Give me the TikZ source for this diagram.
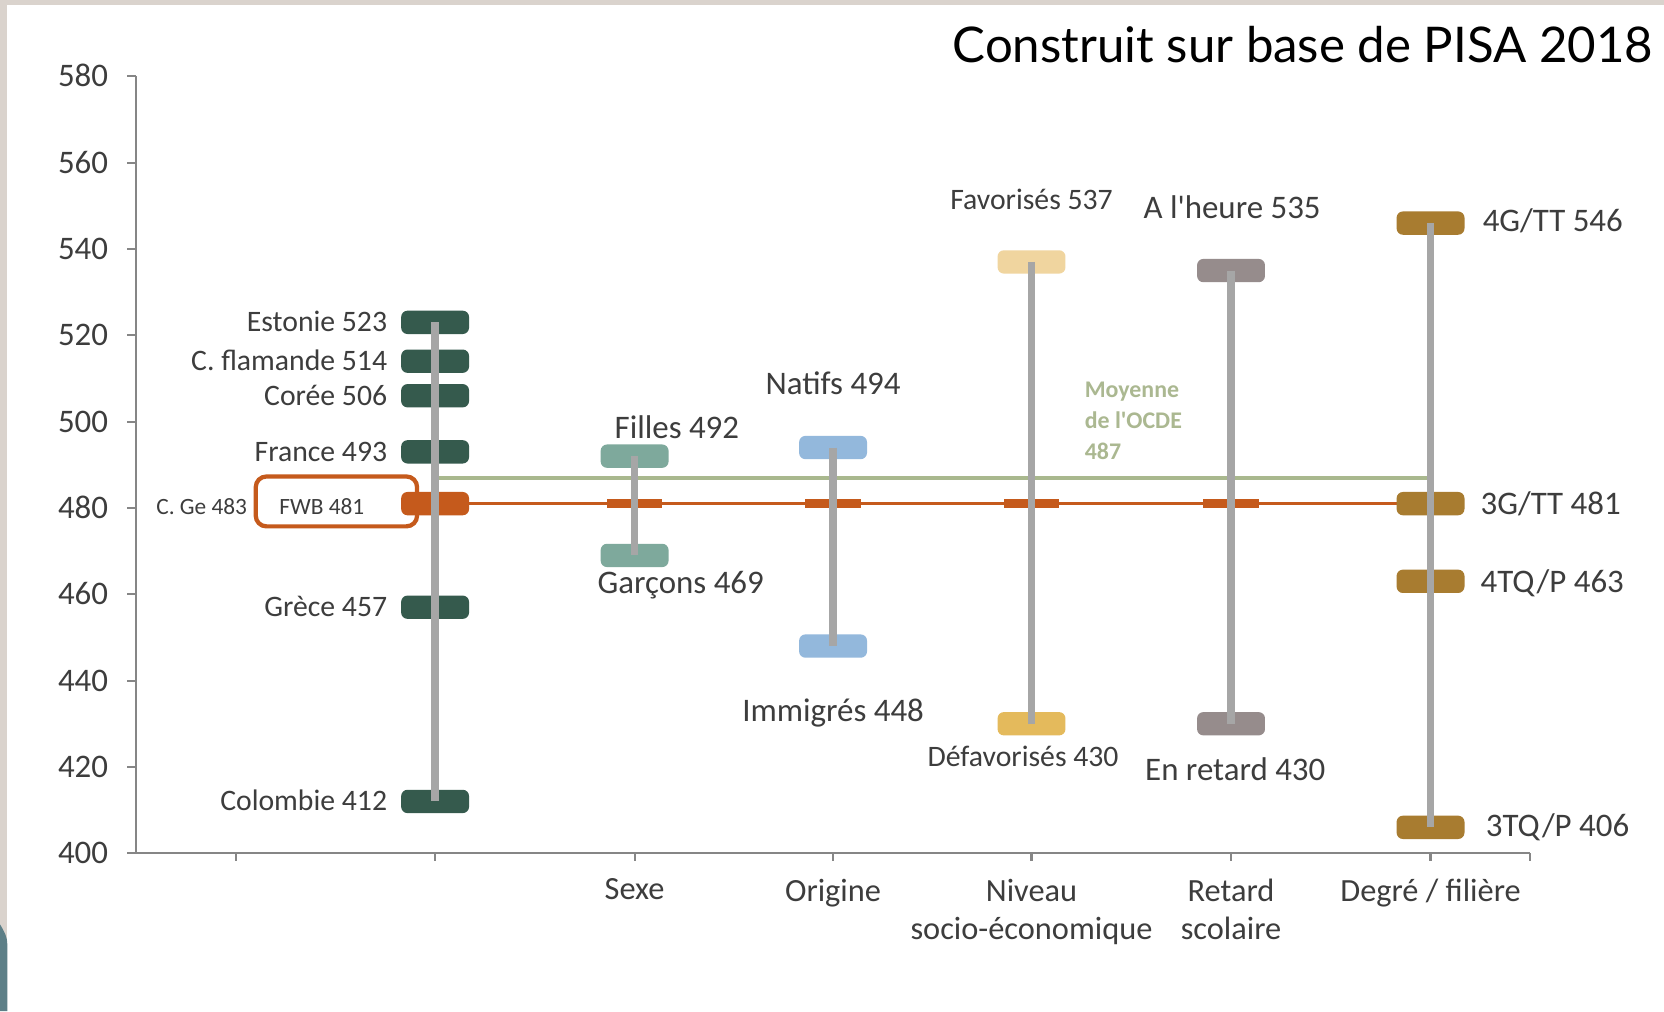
\documentclass[tikz,border=0pt]{standalone}
\usepackage{fontspec}
\usepackage{graphicx}
\setmainfont{Carlito}
\newfontfamily\titlefont{Lato}
\definecolor{cframe}{HTML}{DAD3CD}
\definecolor{cteal}{HTML}{5D7F87}
\definecolor{cpays}{HTML}{355A4D}
\definecolor{corange}{HTML}{C55A1C}
\definecolor{csexe}{HTML}{7EA99C}
\definecolor{corig}{HTML}{93B8DC}
\definecolor{cfav}{HTML}{F0D59F}
\definecolor{cdefav}{HTML}{E4BA5C}
\definecolor{cret}{HTML}{968C8C}
\definecolor{cdeg}{HTML}{A87C30}
\definecolor{cgray}{HTML}{A6A6A6}
\definecolor{coecd}{HTML}{A9B88E}
\definecolor{coecdtxt}{HTML}{ABB891}
\definecolor{caxis}{HTML}{868686}
\definecolor{ctxt}{HTML}{3D3D3D}
\begin{document}
\begin{tikzpicture}[x=1pt,y=-1pt,
  declare function={Y(\v)=804-(\v-400)*4.067;},
  mk/.style={rectangle, rounded corners=6pt, minimum width=64pt, minimum height=22pt, inner sep=0pt, draw=none},
  dashmk/.style={rectangle, minimum width=52pt, minimum height=9pt, inner sep=0pt, fill=corange, draw=none},
  grayline/.style={draw=cgray, line width=7pt},
  axisline/.style={draw=caxis, line width=2pt},
  lbl/.style={inner sep=0pt, text=ctxt, text depth=0pt},
  lblS/.style={lbl, text height=18pt, font=\fontsize{28}{34}\selectfont},
  lblL/.style={lbl, text height=20pt, font=\fontsize{31}{37}\selectfont},
  lblX/.style={lbl, text height=14pt, font=\fontsize{22}{26}\selectfont},
  ticklbl/.style={lbl, text height=20pt, font=\fontsize{31}{37}\selectfont, anchor=east},
  catlbl/.style={inner sep=0pt, text=ctxt, font=\fontsize{30.5}{36}\selectfont, align=center, anchor=north}
]
\useasboundingbox (0,0) rectangle (1568,952.7);
\fill[white] (0,0) rectangle (1568,952.7);
% frame
\fill[cframe] (0,0) rectangle (1568,4.5);
\fill[cframe] (0,0) rectangle (6.9,952.7);
\fill[cteal] (0,871) .. controls (3,876) and (6.9,882) .. (6.9,890) -- (6.9,952.7) -- (0,952.7) -- cycle;

% title
\node[anchor=east, inner sep=0pt] (title) at (1558,42) {\resizebox{660pt}{!}{\titlefont\fontsize{42}{50}\selectfont Construit sur base de PISA 2018}};

% axes
\coordinate (ytop) at (128,{Y(580)});
\coordinate (orig) at (128,{Y(400)});
\coordinate (xend) at (1442,{Y(400)});
\draw[axisline] (ytop) -- (orig);
\draw[axisline] (121,{Y(400)}) -- (xend);
\foreach \v in {400,420,...,580}{
  \draw[axisline] (120,{Y(\v)}) -- (128,{Y(\v)});
  \node[ticklbl] (t\v) at (102,{Y(\v)}) {\v};
}
\foreach \x in {222,410,598,785,972,1160,1348,1442}{
  \draw[axisline] (\x,{Y(400)}) -- (\x,{Y(400)+7});
}

% reference lines
\coordinate (oecdL) at (410,{Y(487)});
\coordinate (oecdR) at (1348,{Y(487)});
\draw[draw=coecd, line width=4pt] (oecdL) -- (oecdR);
\coordinate (fwbL) at (410,{Y(481)});
\coordinate (fwbR) at (1348,{Y(481)});
\draw[draw=corange, line width=3pt] (fwbL) -- (fwbR);
\foreach \x/\n in {598/ds,785/do,972/dn,1160/dr}{
  \node[dashmk] (\n) at (\x,{Y(481)}) {};
}

% FWB box
\node[draw=corange, line width=4pt, rounded corners=10pt, minimum width=152pt, minimum height=47pt, inner sep=0pt] (fwbbox) at (317,472.5) {};

% markers: countries
\node[mk, fill=cpays] (est) at (410,{Y(523)}) {};
\node[mk, fill=cpays] (fla) at (410,{Y(514)}) {};
\node[mk, fill=cpays] (cor) at (410,{Y(506)}) {};
\node[mk, fill=cpays] (fra) at (410,{Y(493)}) {};
\node[mk, fill=corange] (fwb) at (410,{Y(481)}) {};
\node[mk, fill=cpays] (gre) at (410,{Y(457)}) {};
\node[mk, fill=cpays] (col) at (410,{Y(412)}) {};
% sexe
\node[mk, fill=csexe] (fil) at (598,{Y(492)}) {};
\node[mk, fill=csexe] (gar) at (598,{Y(469)}) {};
% origine
\node[mk, fill=corig] (nat) at (785,{Y(494)}) {};
\node[mk, fill=corig] (imm) at (785,{Y(448)}) {};
% niveau
\node[mk, fill=cfav] (fav) at (972,{Y(537)}) {};
\node[mk, fill=cdefav] (def) at (972,{Y(430)}) {};
% retard
\node[mk, fill=cret] (heu) at (1160,{Y(535)}) {};
\node[mk, fill=cret] (ret) at (1160,{Y(430)}) {};
% degre
\node[mk, fill=cdeg] (g4) at (1348,{Y(546)}) {};
\node[mk, fill=cdeg] (g3) at (1348,{Y(481)}) {};
\node[mk, fill=cdeg] (q4) at (1348,{Y(463)}) {};
\node[mk, fill=cdeg] (q3) at (1348,{Y(406)}) {};

% gray range lines
\draw[grayline] (est.center) -- (col.center);
\draw[grayline] (fil.center) -- (gar.center);
\draw[grayline] (nat.center) -- (imm.center);
\draw[grayline] (fav.center) -- (def.center);
\draw[grayline] (heu.center) -- (ret.center);
\draw[grayline] (g4.center) -- (q3.center);

% country labels
\node[lblS, anchor=east] (lest) at (365,{Y(523)}) {Estonie 523};
\node[lblS, anchor=east] (lfla) at (365,{Y(514)}) {C. flamande 514};
\node[lblS, anchor=east] (lcor) at (365,{Y(506)}) {Corée 506};
\node[lblS, anchor=east] (lfra) at (365,{Y(493)}) {France 493};
\node[lblS, anchor=east] (lgre) at (365,{Y(457)}) {Grèce 457};
\node[lblS, anchor=east] (lcol) at (365,{Y(412)}) {Colombie 412};
\node[lblX, anchor=east] (lcge) at (233,478) {C. Ge 483};
\node[lblX, anchor=west] (lfwb) at (263,478) {FWB 481};

% other labels
\node[lblL, anchor=west] (lfil) at (579,403) {Filles 492};
\node[lblL, anchor=west] (lgar) at (563,549) {Garçons 469};
\node[lblL] (lnat) at (785,362) {Natifs 494};
\node[lblL] (limm) at (785,670) {Immigrés 448};
\node[lblS] (lfav) at (972,188) {Favorisés 537};
\node[lblS] (ldef) at (964,713) {Défavorisés 430};
\node[lblL] (lheu) at (1161,196) {A l\textquotesingle heure 535};
\node[lblL] (lret) at (1164,725) {En retard 430};
\node[lblL, anchor=west] (lg4) at (1397,208) {4G/TT 546};
\node[lblL, anchor=west] (lg3) at (1395,475) {3G/TT 481};
\node[lblL, anchor=west] (lq4) at (1395,548) {4TQ/P 463};
\node[lblL, anchor=west] (lq3) at (1400,778) {3TQ/P 406};

% OECD label
\node[anchor=north west, inner sep=0pt, text=coecdtxt, align=left, font=\fontsize{22.5}{29}\selectfont\bfseries] (loecd) at (1022,360) {Moyenne\\de l\textquotesingle OCDE\\487};

% category labels
\node[catlbl] (csex) at (598,828) {Sexe};
\node[catlbl] (cori) at (785,828) {Origine};
\node[catlbl] (cniv) at (972,828) {Niveau\\socio-économique};
\node[catlbl] (cret) at (1160,828) {Retard\\scolaire};
\node[catlbl] (cdeg) at (1348,828) {Degré / filière};
\end{tikzpicture}
\end{document}
